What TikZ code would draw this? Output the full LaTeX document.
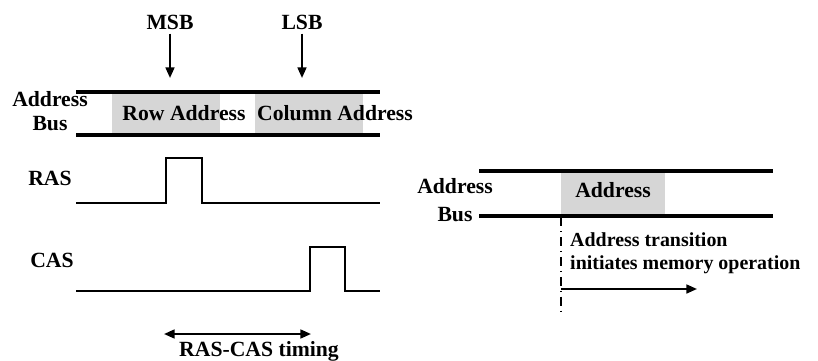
\documentclass[tikz,border=0pt]{standalone}
\usepackage{fontspec}
\setmainfont{Liberation Serif}
\usetikzlibrary{arrows.meta, positioning, calc}
\definecolor{busfill}{HTML}{D6D6D6}

\begin{document}
\begin{tikzpicture}[
    x=0.03cm, y=-0.03cm,
    >={Triangle[length=9pt, width=7.5pt]},
    lbl/.style={font=\fontsize{18.5}{21}\selectfont\bfseries,
      inner sep=0pt, align=center},
    bus/.style={line width=2.6pt},
    sig/.style={line width=1.8pt},
    arr/.style={->, line width=1.8pt},
    field/.style={fill=busfill, draw=none},
  ]
  \useasboundingbox (0,0) rectangle (818,360);

  % ── Multiplexed address bus ──
  \fill[field] (112,93) rectangle (220,134);
  \fill[field] (255,93) rectangle (363,134);
  \draw[bus] (76,92) -- (380,92);
  \draw[bus] (76,135) -- (380,135);
  \node[lbl] (row) at (184,113) {Row Address};
  \node[lbl] (col) at (335,113) {Column Address};
  \node[lbl] (bus1) at (50,111) {Address\\Bus};

  % ── MSB / LSB markers ──
  \node[lbl] (msb) at (170,22) {MSB};
  \node[lbl] (lsb) at (302,22) {LSB};
  \coordinate (msbend) at (170,78);
  \coordinate (lsbend) at (302,78);
  \draw[arr] ($(msb.south)+(0,4)$) -- (msbend);
  \draw[arr] ($(lsb.south)+(0,4)$) -- (lsbend);

  % ── RAS strobe ──
  \node[lbl] (ras) at (50,178) {RAS};
  \draw[sig] (76,203) -- (166,203) -- (166,158) -- (202,158)
    -- (202,203) -- (380,203);

  % ── CAS strobe ──
  \node[lbl] (cas) at (52,260) {CAS};
  \draw[sig] (76,291) -- (310,291) -- (310,247) -- (345,247)
    -- (345,291) -- (380,291);

  % ── RAS-CAS timing ──
  \coordinate (tl) at (164,334);
  \coordinate (tr) at (311,334);
  \draw[<->, line width=1.8pt] (tl) -- (tr);
  \node[lbl] (timing) at (259,351) {RAS-CAS timing};

  % ── Non-multiplexed address bus ──
  \fill[field] (561,172) rectangle (665,215);
  \draw[bus] (479,171) -- (773,171);
  \draw[bus] (479,216) -- (773,216);
  \node[lbl] (addr) at (613,190) {Address};
  \node[lbl] (bus2) at (455,200) {Address\\[3pt]Bus};

  % ── Transition marker ──
  \coordinate (mk) at (561,217);
  \coordinate (mkend) at (561,314);
  \draw[line width=1pt, dash pattern=on 8pt off 4pt on 1pt off 4pt]
    (mk) -- (mkend);
  \coordinate (op) at (561,289);
  \coordinate (opend) at (697,289);
  \draw[arr] (op) -- (opend);
  \node[lbl, font=\fontsize{17}{19.5}\selectfont\bfseries,
        anchor=west, align=left] (note) at (570,253)
    {Address transition\\initiates memory operation};

\end{tikzpicture}
\end{document}
